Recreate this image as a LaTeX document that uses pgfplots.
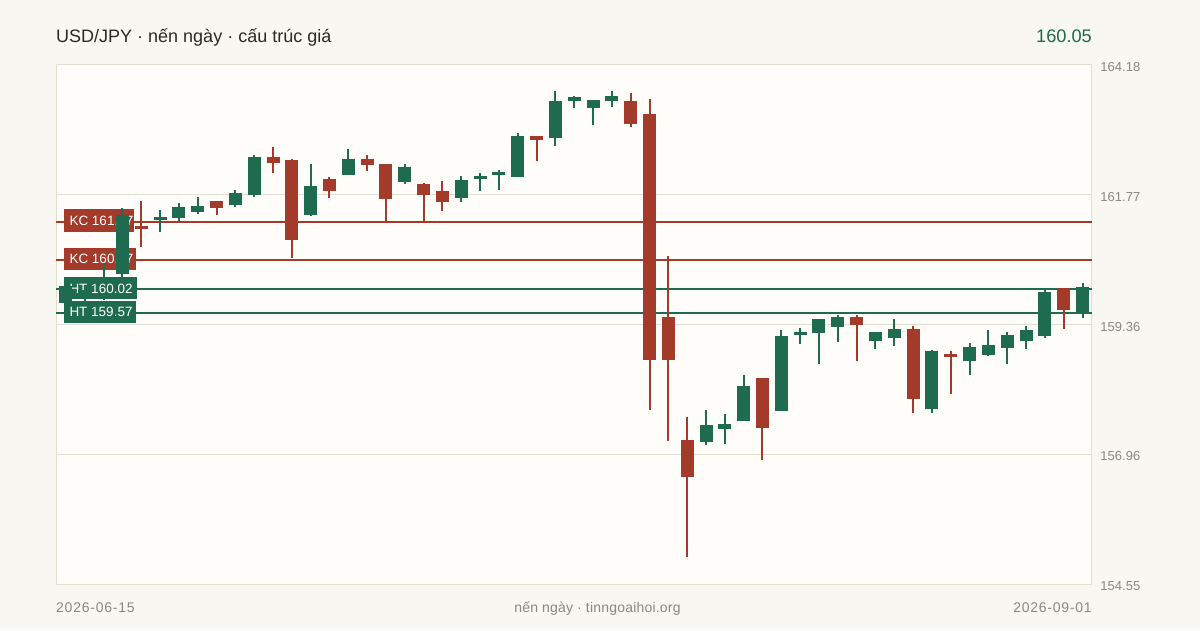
\documentclass[border=0pt]{standalone}
\usepackage{pgfplots}
\pgfplotsset{compat=1.18}
\usepackage{pgfplotstable}
\usepackage{fontspec}
\setmainfont{Liberation Sans}
\definecolor{bgc}{HTML}{F8F7F2}
\definecolor{plotc}{HTML}{FFFDF9}
\definecolor{gridc}{HTML}{E2DED0}
\definecolor{upc}{HTML}{1F6B4F}
\definecolor{dnc}{HTML}{A33A2A}
\definecolor{txtc}{HTML}{2A2A26}
\definecolor{mutedc}{HTML}{8C887D}
% x, top of body, high, low, bottom of body
\pgfplotstableread{
x top high low bot
0 160.08 160.08 159.76 159.76
1 160.01 160.01 159.78 159.86
2 159.91 160.51 159.82 159.84
3 161.40 161.53 160.23 160.30
5 161.36 161.49 161.08 161.30
6 161.55 161.62 161.29 161.34
7 161.56 161.73 161.42 161.45
9 161.81 161.86 161.55 161.58
10 162.47 162.51 161.73 161.77
13 161.93 162.34 161.38 161.40
15 162.44 162.62 162.14 162.14
18 162.29 162.34 161.97 162.01
21 162.05 162.12 161.64 161.71
22 162.12 162.18 161.84 162.06
23 162.19 162.23 161.86 162.14
24 162.86 162.92 162.10 162.10
26 163.51 163.70 162.68 162.83
27 163.59 163.60 163.38 163.51
28 163.53 163.53 163.07 163.38
29 163.60 163.70 163.40 163.51
34 157.50 157.78 157.13 157.18
35 157.52 157.70 157.15 157.43
36 158.22 158.43 157.57 157.57
38 159.15 159.26 157.76 157.76
39 159.23 159.30 159.00 159.17
40 159.47 159.47 158.63 159.21
41 159.50 159.54 159.04 159.32
43 159.23 159.23 158.91 159.06
44 159.28 159.47 158.97 159.11
46 158.87 158.89 157.72 157.80
48 158.95 159.02 158.43 158.69
49 158.98 159.26 158.78 158.80
50 159.17 159.23 158.63 158.93
51 159.26 159.34 158.91 159.06
52 159.97 160.02 159.11 159.15
54 160.07 160.13 159.49 159.58
}\upcandles
\pgfplotstableread{
x top high low bot
4 161.19 161.66 160.80 161.14
8 161.66 161.66 161.40 161.53
11 162.47 162.66 162.18 162.36
12 162.42 162.44 160.60 160.93
14 162.06 162.10 161.71 161.84
16 162.44 162.51 162.21 162.32
17 162.34 162.34 161.27 161.69
19 161.97 161.99 161.27 161.77
20 161.84 162.03 161.47 161.64
25 162.86 162.86 162.40 162.79
30 163.51 163.66 163.03 163.09
31 163.27 163.55 157.78 158.71
32 159.50 160.64 157.20 158.71
33 157.22 157.65 155.05 156.54
37 158.37 158.37 156.85 157.44
42 159.50 159.54 158.69 159.36
45 159.28 159.34 157.72 157.98
47 158.82 158.87 158.08 158.76
53 160.04 160.04 159.28 159.63
}\dncandles
\pgfplotsset{
 candlewick/.style={draw=none,mark=none,forget plot,
   error bars/.cd,y dir=both,y explicit,error mark=none,
   error bar style={line width=2pt,color=#1}},
 candlebody/.style={draw=none,mark=none,forget plot,
   error bars/.cd,y dir=both,y explicit,error mark=none,
   error bar style={line width=13pt,color=#1}},
}
\newcommand{\lab}{\fontsize{13.5}{16}\selectfont}
\begin{document}
\begin{tikzpicture}[x=1pt,y=1pt]
\fill[bgc] (0,0) rectangle (1200,630);
\node[anchor=base west,text=txtc,font=\fontsize{18}{20}\selectfont,inner sep=0pt] at (56,587) {USD/JPY · nến ngày · cấu trúc giá};
\node[anchor=base east,text=upc,font=\fontsize{18.2}{22}\selectfont,inner sep=0pt] at (1092,587) {160.05};
\node[anchor=base west,text=mutedc,font=\fontsize{14}{16}\selectfont\addfontfeature{LetterSpace=5.5},inner sep=0pt] at (56,18) {2026-06-15};
\node[anchor=base,text=mutedc,font=\fontsize{14}{16}\selectfont\addfontfeature{LetterSpace=1.4},inner sep=0pt] at (597.5,18) {nến ngày · tinngoaihoi.org};
\node[anchor=base east,text=mutedc,font=\fontsize{14}{16}\selectfont\addfontfeature{LetterSpace=5.5},inner sep=0pt] at (1092,18) {2026-09-01};
\begin{axis}[
  at={(56.5pt,46pt)},anchor=south west,
  width=1035.5pt,height=519pt,scale only axis,
  xmin=-0.5,xmax=54.5,ymin=154.55,ymax=164.18,
  axis background/.style={fill=plotc},
  axis line style={draw=gridc,line width=1pt},
  xtick=\empty,
  ytick={154.55,156.96,159.36,161.77,164.18},
  yticklabels={154.55,156.96,159.36,161.77,164.18},
  ymajorgrids,grid style={draw=gridc,line width=1pt},
  tick style={draw=none},
  yticklabel pos=right,
  y tick label style={text=mutedc,font=\fontsize{13}{16}\selectfont,xshift=5pt,yshift=-2pt},
  /pgf/number format/assume math mode=true,
  clip=false,
]
\addplot[dnc,line width=2pt,forget plot] coordinates {(-0.5,161.27) (54.5,161.27)};
\addplot[dnc,line width=2pt,forget plot] coordinates {(-0.5,160.57) (54.5,160.57)};
\addplot[upc,line width=2pt,forget plot] coordinates {(-0.5,160.02) (54.5,160.02)};
\addplot[upc,line width=2pt,forget plot] coordinates {(-0.5,159.57) (54.5,159.57)};
\path[fill=dnc] (axis cs:-0.08,161.50) rectangle (axis cs:3.63,161.09);
\path[fill=dnc] (axis cs:-0.08,160.79) rectangle (axis cs:3.74,160.38);
\path[fill=upc] (axis cs:-0.08,160.25) rectangle (axis cs:3.80,159.83);
\path[fill=upc] (axis cs:-0.08,159.81) rectangle (axis cs:3.74,159.40);
\node[anchor=west,text=white,font=\lab,inner sep=0pt] at (axis cs:0.18,161.29) {KC 161.27};
\node[anchor=west,text=white,font=\lab,inner sep=0pt] at (axis cs:0.18,160.58) {KC 160.57};
\node[anchor=west,text=white,font=\lab,inner sep=0pt] at (axis cs:0.18,160.03) {HT\phantom{ 160.02}};
\node[anchor=west,text=white,font=\lab,inner sep=0pt] at (axis cs:0.18,159.60) {HT 159.57};
\addplot[candlewick=upc] table[x=x,y=top,y error plus expr=\thisrow{high}-\thisrow{top},y error minus expr=\thisrow{top}-\thisrow{low}] {\upcandles};
\addplot[candlebody=upc] table[x=x,y=top,y error plus expr=0,y error minus expr=\thisrow{top}-\thisrow{bot}] {\upcandles};
\addplot[candlewick=dnc] table[x=x,y=top,y error plus expr=\thisrow{high}-\thisrow{top},y error minus expr=\thisrow{top}-\thisrow{low}] {\dncandles};
\addplot[candlebody=dnc] table[x=x,y=top,y error plus expr=0,y error minus expr=\thisrow{top}-\thisrow{bot}] {\dncandles};
\node[anchor=west,text=white,font=\lab,inner sep=0pt] at (axis cs:0.18,160.03) {\phantom{HT }160.02};
\end{axis}
\end{tikzpicture}
\end{document}
